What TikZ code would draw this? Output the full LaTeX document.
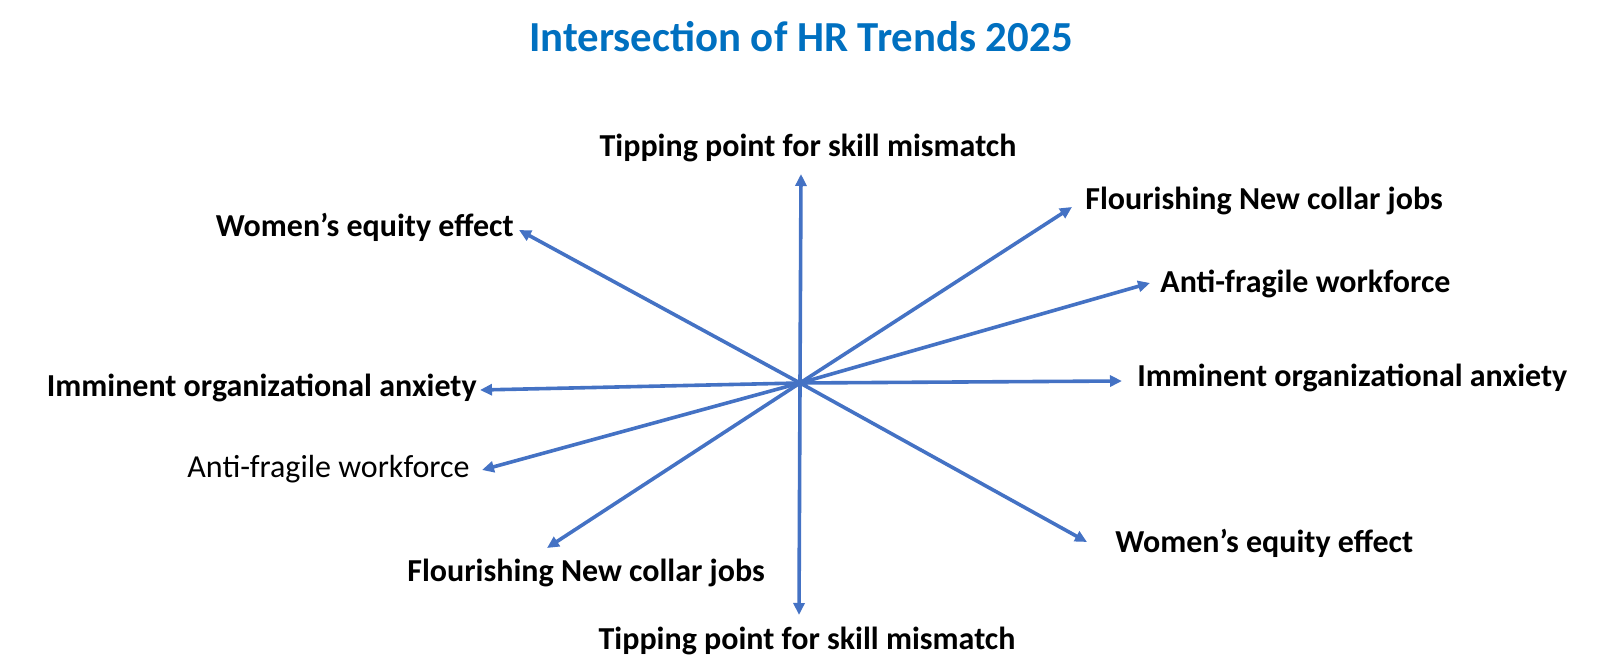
\documentclass[tikz,border=0pt]{standalone}
\usepackage{fontspec}
\setmainfont{Carlito}
\usetikzlibrary{arrows.meta,positioning}
\definecolor{TrendBlue}{HTML}{4472C4}
\definecolor{TitleBlue}{HTML}{0070C0}

\begin{document}
\begin{tikzpicture}[%
    x=0.5pt, y=-0.5pt,%
    spoke/.style={draw=TrendBlue, line width=1.8pt, -{Triangle[length=6pt, width=5.5pt]}},%
    trend/.style={font=\fontsize{16}{19}\selectfont\bfseries, inner sep=0pt},%
  ]
  \useasboundingbox (0,0) rectangle (1622,672);%

  % Titre
  \node[font=\fontsize{21.4}{25}\selectfont\bfseries, text=TitleBlue, anchor=base, inner sep=0pt]%
  (title) at (801,52) {Intersection of HR Trends 2025};%

  %
  % Rayons
  %
  \coordinate (hub) at (800,383);%
  \foreach \n/\x/\y in {skill up/801/174, women left/519/230, collar right/1072/207,%
      fragile right/1150/283, anxiety right/1122/381, anxiety left/480/390,%
      fragile left/482/470, collar left/547/548, women right/1087/542, skill down/799/615} {%
      \coordinate (\n\space tip) at (\x,\y);%
      \draw[spoke] (hub) -- (\n\space tip);%
    }%

  %
  % Etiquettes
  %
  \node[trend, anchor=base] (skill up label) at (808,157) {Tipping point for skill mismatch};%
  \node[trend, anchor=base east] (women left label) at (514,237) {Women’s equity effect};%
  \node[trend, anchor=base west] (collar right label) at (1085,210) {Flourishing New collar jobs};%
  \node[trend, anchor=base west] (fragile right label) at (1160,293) {Anti-fragile workforce};%
  \node[trend, anchor=base west] (anxiety right label) at (1137,387) {Imminent organizational anxiety};%
  \node[trend, anchor=base east] (anxiety left label) at (477,397) {Imminent organizational anxiety};%
  \node[trend, font=\fontsize{16}{19}\selectfont, anchor=base east] (fragile left label) at (470,478) {Anti-fragile workforce};%
  \node[trend, anchor=base west] (collar left label) at (407,582) {Flourishing New collar jobs};%
  \node[trend, anchor=base west] (women right label) at (1115,553) {Women’s equity effect};%
  \node[trend, anchor=base] (skill down label) at (807,650) {Tipping point for skill mismatch};%
\end{tikzpicture}
\end{document}
